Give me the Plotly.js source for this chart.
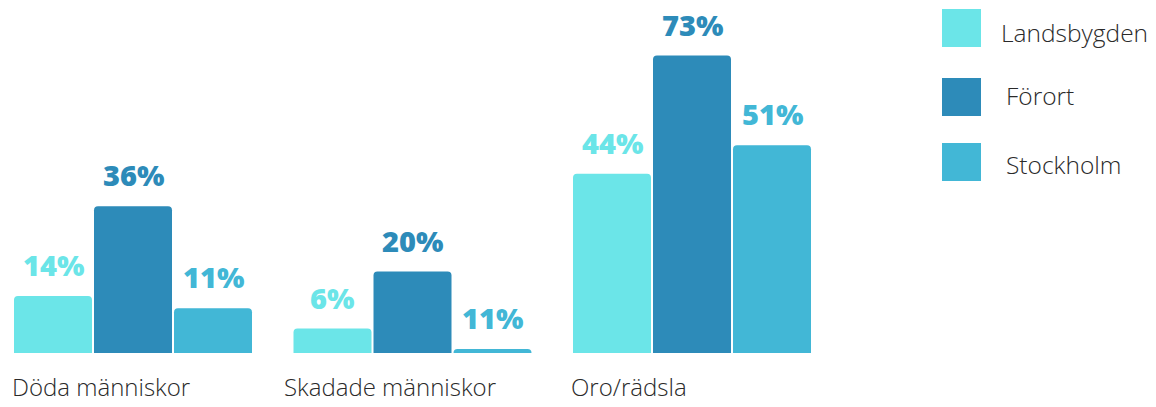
<!DOCTYPE html>
<html>
<head>
<meta charset="utf-8">
<script src="https://cdn.plot.ly/plotly-3.0.1.min.js"></script>
<style>html,body{margin:0;padding:0;background:#fff;}#chart{width:1156px;height:407px;}</style>
</head>
<body>
<div id="chart"></div>
<script>
// ---- data ----
const categories = ["Döda människor", "Skadade människor", "Oro/rädsla"];
const seriesNames = ["Landsbygden", "Förort", "Stockholm"];
const landsbygden = [14, 6, 44];
const forort = [36, 20, 73];
const stockholm = [11, 1, 51];              // bar heights as drawn
const landsbygdenLabels = ["14%", "6%", "44%"];
const forortLabels = ["36%", "20%", "73%"];
const stockholmLabels = ["11%", "11%", "51%"];  // labels as printed
const colors = ["#6be5e8", "#2d8bb9", "#42b7d6"];

const W = 1156, H = 407;
const M = {l: 13, r: 344, t: 27, b: 54};
const PW = W - M.l - M.r, PH = H - M.t - M.b;
const bargap = 0.1413, bargroupgap = 0.025;
const half = (1 - bargap) / 2;

const values = [landsbygden, forort, stockholm];
const labels = [landsbygdenLabels, forortLabels, stockholmLabels];

const traces = seriesNames.map((n, k) => ({
  type: "bar", name: n, x: categories, y: values[k],
  marker: {color: colors[k], cornerradius: 4},
  hoverinfo: "skip", showlegend: false
}));

const annotations = [];
const slot = (1 - bargap) / 3;
values.forEach((vals, k) => {
  vals.forEach((v, i) => {
    annotations.push({
      x: i + (k - 1) * slot, y: v, xref: "x", yref: "y",
      text: labels[k][i], showarrow: false, xanchor: "center", yanchor: "bottom",
      yshift: 10,
      font: {family: "Open Sans, sans-serif", size: 29, color: colors[k], weight: 800}
    });
  });
});
const catShift = [-3, -11, -3];
categories.forEach((c, i) => {
  annotations.push({
    x: i - half, y: 0, xref: "x", yref: "y", text: c, showarrow: false,
    xanchor: "left", yanchor: "bottom", yshift: -52, xshift: catShift[i],
    font: {family: "Open Sans, sans-serif", size: 24, color: "#2a2a2a", weight: 300}
  });
});

// legend drawn as shapes + text
const px2x = px => (px - M.l) / PW;
const py2y = py => (M.t + PH - py) / PH;
const legendTops = [9, 78, 143];
const legendTextX = [999, 1004, 1004];
const legendTextY = [32, 95, 164];
const shapes = [];
seriesNames.forEach((n, k) => {
  const top = legendTops[k];
  shapes.push({type: "rect", xref: "paper", yref: "paper",
    x0: px2x(942), x1: px2x(981), y0: py2y(top + 38), y1: py2y(top),
    fillcolor: colors[k], line: {width: 0}});
  annotations.push({xref: "paper", yref: "paper", x: px2x(legendTextX[k]), y: py2y(legendTextY[k]),
    text: n, showarrow: false, xanchor: "left", yanchor: "middle",
    font: {family: "Open Sans, sans-serif", size: 24.5, color: "#2a2a2a", weight: 300}});
});

const layout = {
  width: W, height: H, margin: M,
  paper_bgcolor: "#fff", plot_bgcolor: "#fff",
  barmode: "group", bargap: bargap, bargroupgap: bargroupgap,
  xaxis: {type: "category", range: [-half, categories.length - 1 + half],
    showticklabels: false, showgrid: false, zeroline: false, showline: false, ticks: ""},
  yaxis: {range: [0, 80], visible: false, showgrid: false, zeroline: false},
  showlegend: false, annotations: annotations, shapes: shapes
};
Plotly.newPlot("chart", traces, layout, {displayModeBar: false, staticPlot: true});
</script>
</body>
</html>
